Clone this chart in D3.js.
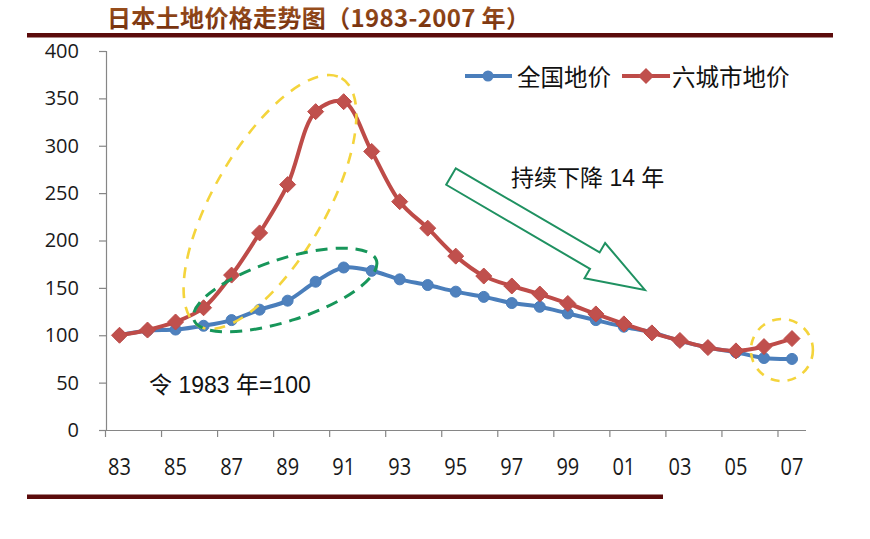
<!DOCTYPE html>
<html><head><meta charset="utf-8">
<script src="https://cdn.jsdelivr.net/npm/d3@7"></script>
<style>
html,body{margin:0;padding:0;background:#fff;}
svg{display:block;}
</style></head>
<body>
<svg id="chart" width="870" height="539"></svg>
<script>
// ---------- data ----------
const years = ['83','84','85','86','87','88','89','90','91','92','93','94','95','96','97','98','99','00','01','02','03','04','05','06','07'];
const nationalLand = [100,105,106,110,116,127,136.5,156.5,171.5,168,159,153,146,140.5,134,130,123,116,109,103,94,87,82,76,75];
const sixCitiesLand = [100,105.5,114,129,163.5,208,259,336,346.5,294,241,213,183.5,162.5,152,143.5,133.5,122.5,112,102.5,94.5,87,83.5,88,96.5];
const yTicks = [0,50,100,150,200,250,300,350,400];
const xLabelYears = ['83','85','87','89','91','93','95','97','99','01','03','05','07'];
const seriesNames = ['全国地价','六城市地价'];
const titleText = '日本土地价格走势图（1983-2007 年）';
const noteBase = '令 1983 年=100';
const noteDecline = '持续下降 14 年';

// ---------- layout ----------
const svg = d3.select('#chart');
const x = d3.scaleBand().domain(years).range([105.5, 806]).padding(0);
const xi = d3.scaleLinear().domain([-0.5, years.length - 0.5]).range([105.5, 806]); // fractional index for annotations
const y = d3.scaleLinear().domain([0, 400]).range([430, 51]);
const cx = yr => x(yr) + x.bandwidth() / 2;

const blue = '#4a7ebb', blueFill = '#4f81bd';
const red = '#be4b48', redFill = '#c0504d';
const axisCol = '#868686';
const cjk = '"Noto Sans CJK SC", "Noto Sans", sans-serif';
const mixed = '"Liberation Sans", "Noto Sans CJK SC", sans-serif';
const num = '"Open Sans", "Noto Sans", sans-serif';

// title
const defs = svg.append('defs');
const grad = defs.append('linearGradient').attr('id','tg').attr('x1',0).attr('y1',0).attr('x2',0).attr('y2',1);
grad.append('stop').attr('offset','0%').attr('stop-color','#a65a22');
grad.append('stop').attr('offset','100%').attr('stop-color','#6e2a0a');
svg.append('text').attr('x',107).attr('y',27)
  .attr('font-family',cjk).attr('font-weight','bold').attr('font-size',24)
  .attr('letter-spacing',0.35)
  .attr('fill','url(#tg)').text(titleText);
svg.append('rect').attr('x',27).attr('y',33).attr('width',806).attr('height',4.5).attr('fill','#5b0b0b');
svg.append('rect').attr('x',27).attr('y',494.5).attr('width',636).attr('height',4.5).attr('fill','#5b0b0b');

// y axis
const gy = svg.append('g').attr('transform','translate(106,0)')
  .call(d3.axisLeft(y).tickValues(yTicks).tickSize(7).tickPadding(20));
gy.select('.domain').attr('stroke',axisCol).attr('stroke-width',1.2);
gy.selectAll('.tick line').attr('stroke',axisCol).attr('stroke-width',1.2);
gy.selectAll('.tick text').attr('font-family',num).attr('font-size',20).attr('fill','#1a1a1a');

// x axis
const gx = svg.append('g').attr('transform','translate(0,430)')
  .call(d3.axisBottom(x).tickValues(xLabelYears).tickSize(0).tickPadding(0));
gx.select('.domain').attr('stroke',axisCol).attr('stroke-width',1.2).attr('d','M99,0.5H806');
gx.selectAll('.tick text').attr('font-family',num).attr('font-size',20).attr('fill','#1a1a1a')
  .attr('dy',null).attr('y',0)
  .attr('transform','translate(0,45) scale(1,1.2)');
gx.selectAll('.xt').data(xLabelYears).enter().append('line').attr('class','xt')
  .attr('x1',d=>x(d)).attr('x2',d=>x(d)).attr('y1',0).attr('y2',7)
  .attr('stroke',axisCol).attr('stroke-width',1.2);

// lines
const line = d3.line().x((d,i)=>cx(years[i])).y(d=>y(d)).curve(d3.curveCatmullRom.alpha(0.5));
const diamond = r => `M0,${-r}L${r},0L0,${r}L${-r},0Z`;

svg.append('path').datum(nationalLand).attr('d',line).attr('fill','none')
  .attr('stroke',blue).attr('stroke-width',4).attr('stroke-linejoin','round');
svg.append('g').selectAll('circle').data(nationalLand).enter().append('circle')
  .attr('cx',(d,i)=>cx(years[i])).attr('cy',d=>y(d)).attr('r',5.5)
  .attr('fill',blueFill).attr('stroke',blue).attr('stroke-width',1);

svg.append('path').datum(sixCitiesLand).attr('d',line).attr('fill','none')
  .attr('stroke',red).attr('stroke-width',4).attr('stroke-linejoin','round');
svg.append('g').selectAll('path').data(sixCitiesLand).enter().append('path')
  .attr('d',diamond(8))
  .attr('transform',(d,i)=>`translate(${cx(years[i])},${y(d)})`)
  .attr('fill',redFill).attr('stroke',red).attr('stroke-width',1);

// legend
const lg = svg.append('g');
lg.append('line').attr('x1',465).attr('x2',512).attr('y1',76).attr('y2',76).attr('stroke',blue).attr('stroke-width',4);
lg.append('circle').attr('cx',488).attr('cy',76).attr('r',5.5).attr('fill',blueFill);
lg.append('text').attr('x',517).attr('y',76).attr('dominant-baseline','central')
  .attr('font-family',cjk).attr('font-size',23.5).attr('fill','#111').text(seriesNames[0]);
lg.append('line').attr('x1',622).attr('x2',670).attr('y1',76).attr('y2',76).attr('stroke',red).attr('stroke-width',4);
lg.append('path').attr('d',diamond(8)).attr('transform','translate(646,76)').attr('fill',redFill);
lg.append('text').attr('x',672).attr('y',76).attr('dominant-baseline','central')
  .attr('font-family',cjk).attr('font-size',23.5).attr('fill','#111').text(seriesNames[1]);

// annotations (anchored in data space)
const yellowEll = {i:5.37, v:240.6, rx:143, ry:56, rot:-60};
const greenEll = {i:5.91, v:147.8, rx:96, ry:31, rot:-18};
const yellowCirc = {i:23.64, v:84.4, r:31};
const arrowTail = {i:11.83, v:267.5}, arrowTip = {i:18.75, v:147.8};

svg.append('ellipse')
  .attr('transform',`translate(${xi(yellowEll.i)},${y(yellowEll.v)}) rotate(${yellowEll.rot})`)
  .attr('rx',yellowEll.rx).attr('ry',yellowEll.ry)
  .attr('fill','none').attr('stroke','#f4d43c').attr('stroke-width',2.6).attr('stroke-dasharray','11,9');
svg.append('ellipse')
  .attr('transform',`translate(${xi(greenEll.i)},${y(greenEll.v)}) rotate(${greenEll.rot})`)
  .attr('rx',greenEll.rx).attr('ry',greenEll.ry)
  .attr('fill','none').attr('stroke','#17965a').attr('stroke-width',3).attr('stroke-dasharray','12,8');
svg.append('circle')
  .attr('cx',xi(yellowCirc.i)).attr('cy',y(yellowCirc.v)).attr('r',yellowCirc.r)
  .attr('fill','none').attr('stroke','#f4d43c').attr('stroke-width',2.6).attr('stroke-dasharray','9,8');

// block arrow
const ax0 = xi(arrowTail.i), ay0 = y(arrowTail.v), ax1 = xi(arrowTip.i), ay1 = y(arrowTip.v);
const L = Math.hypot(ax1-ax0, ay1-ay0), ang = Math.atan2(ay1-ay0, ax1-ax0)*180/Math.PI;
const sw = 9.5, hw = 20.4, hl = 58;
const pts = [[0,-sw],[L-hl,-sw],[L-hl,-hw],[L,0],[L-hl,hw],[L-hl,sw],[0,sw]];
svg.append('polygon').attr('points',pts.map(p=>p.join(',')).join(' '))
  .attr('transform',`translate(${ax0},${ay0}) rotate(${ang})`)
  .attr('fill','#fff').attr('stroke','#1f9161').attr('stroke-width',2).attr('stroke-linejoin','miter');

svg.append('text').attr('x',511).attr('y',186).attr('font-family',mixed).attr('font-size',23)
  .attr('fill','#111').text(noteDecline);
svg.append('text').attr('x',149).attr('y',393).attr('font-family',mixed).attr('font-size',23)
  .attr('fill','#111').text(noteBase);
</script>
</body></html>
